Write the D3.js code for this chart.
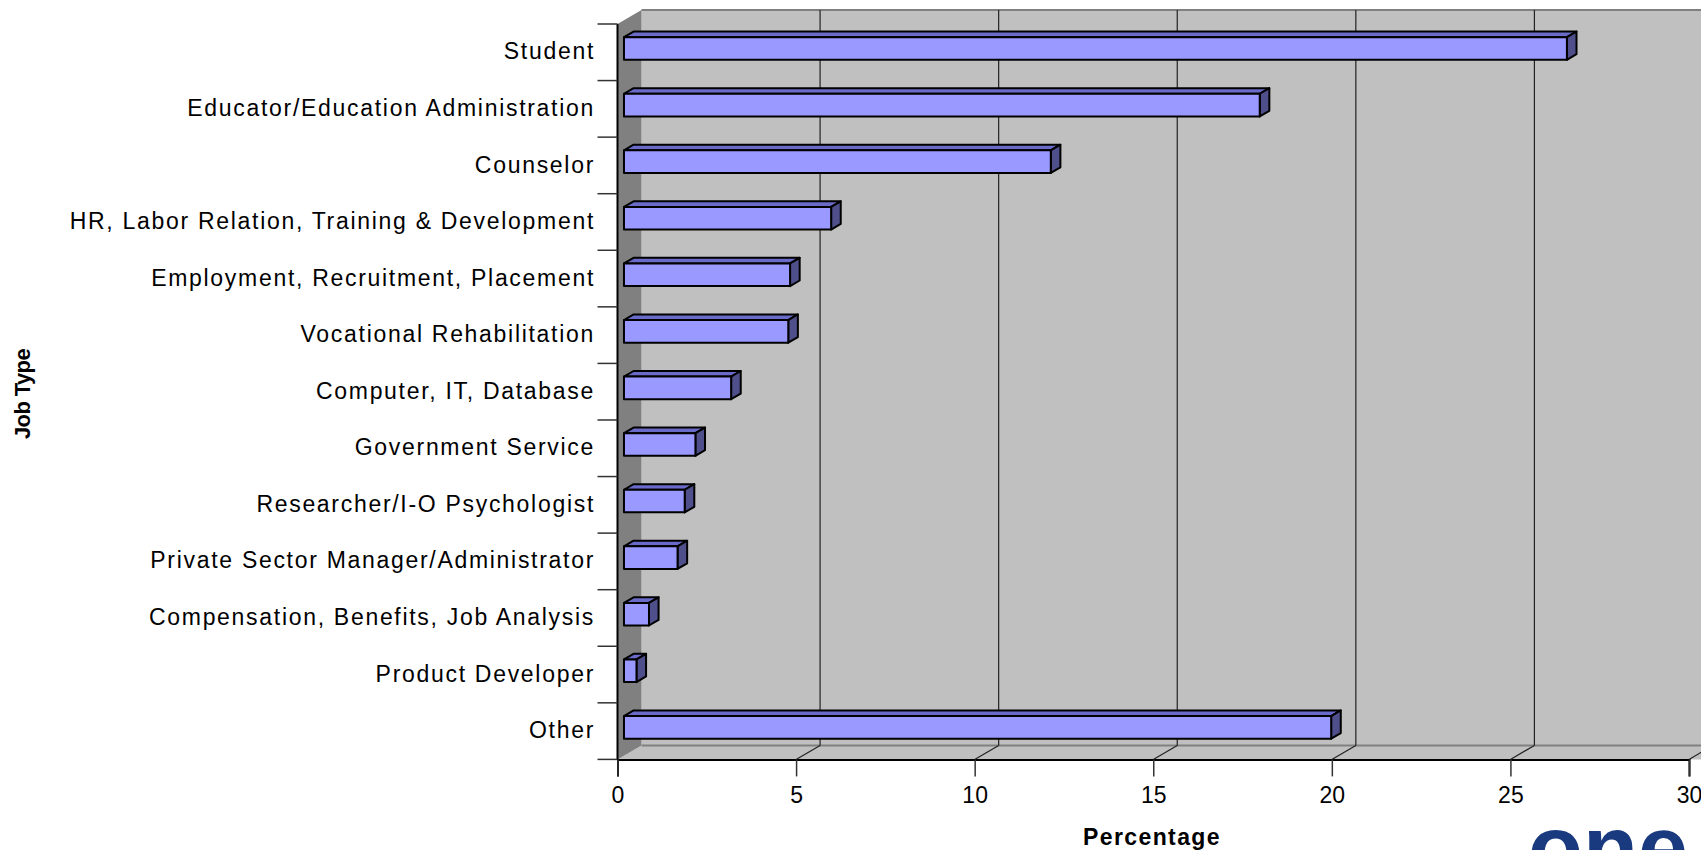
<!DOCTYPE html>
<html>
<head>
<meta charset="utf-8">
<script src="https://cdn.jsdelivr.net/npm/d3@7"></script>
<style>
  html, body { margin: 0; padding: 0; background: #fff; overflow: hidden; }
  svg { display: block; font-family: "Liberation Sans", Arial, sans-serif; }
</style>
</head>
<body>
<div id="chart"></div>
<script>
const jobTypes = [
    "Student",
    "Educator/Education Administration",
    "Counselor",
    "HR, Labor Relation, Training & Development",
    "Employment, Recruitment, Placement",
    "Vocational Rehabilitation",
    "Computer, IT, Database",
    "Government Service",
    "Researcher/I-O Psychologist",
    "Private Sector Manager/Administrator",
    "Compensation, Benefits, Job Analysis",
    "Product Developer",
    "Other"
];
const percentages = [26.4, 17.8, 11.95, 5.8, 4.65, 4.6, 3.0, 2.0, 1.7, 1.5, 0.7, 0.35, 19.8];
const xTicks = [0, 5, 10, 15, 20, 25, 30];

const W = 1701, H = 850;
// 3D depth of the plot box (front plane -> back wall)
const DX = 24, DY = -14;
// bars sit inside the depth
const barFront = 0.27, barDepth = 0.4;

const svg = d3.select("#chart").append("svg")
    .attr("width", W)
    .attr("height", H);

const x = d3.scaleLinear().domain([0, 30]).range([617.5, 1689]);
const y = d3.scaleBand().domain(jobTypes).range([24, 759.4])
    .paddingInner(0.6).paddingOuter(0.3);

const x0 = x(0), yTop = y.range()[0], yBot = y.range()[1];

// back wall
svg.append("rect")
    .attr("x", x0 + DX).attr("y", yTop + DY)
    .attr("width", W).attr("height", yBot - yTop)
    .attr("fill", "#c0c0c0");
svg.append("line")
    .attr("x1", x0 + DX).attr("x2", W)
    .attr("y1", yTop + DY).attr("y2", yTop + DY)
    .attr("stroke", "#808080").attr("stroke-width", 2);

// floor
svg.append("path")
    .attr("d", `M${x0},${yBot}L${x0 + DX},${yBot + DY}L${W + DX},${yBot + DY}L${W},${yBot}Z`)
    .attr("fill", "#c0c0c0");
svg.append("line")
    .attr("x1", x0 + DX).attr("x2", W)
    .attr("y1", yBot + DY).attr("y2", yBot + DY)
    .attr("stroke", "#808080").attr("stroke-width", 2);

// left side wall
svg.append("path")
    .attr("d", `M${x0},${yTop}L${x0 + DX},${yTop + DY}L${x0 + DX},${yBot + DY}L${x0},${yBot}Z`)
    .attr("fill", "#808080");

// gridlines on back wall and floor
const grid = svg.append("g");
grid.selectAll(".vgrid").data(xTicks.slice(1)).join("line")
    .attr("x1", d => x(d) + DX).attr("x2", d => x(d) + DX)
    .attr("y1", yTop + DY).attr("y2", yBot + DY)
    .attr("stroke", "#222").attr("stroke-width", 1.2);
grid.selectAll(".fgrid").data(xTicks.slice(1)).join("line")
    .attr("x1", d => x(d)).attr("x2", d => x(d) + DX)
    .attr("y1", yBot).attr("y2", yBot + DY)
    .attr("stroke", "#222").attr("stroke-width", 1.2);

// bars
const bars = svg.append("g")
    .attr("stroke", "#000")
    .attr("stroke-width", 2)
    .attr("stroke-linejoin", "round");
const fx = DX * barFront, fy = DY * barFront;
const bx = DX * barDepth, by = DY * barDepth;

jobTypes.forEach((name, i) => {
    const v = percentages[i];
    const left = x(0) + fx;
    const right = x(v) + fx;
    const top = y(name) + fy;
    const h = y.bandwidth();
    // top face
    bars.append("path")
        .attr("d", `M${left},${top}L${left + bx},${top + by}L${right + bx},${top + by}L${right},${top}Z`)
        .attr("fill", "#6a6ac8");
    // end face
    bars.append("path")
        .attr("d", `M${right},${top}L${right + bx},${top + by}L${right + bx},${top + by + h}L${right},${top + h}Z`)
        .attr("fill", "#4f4f8c");
    // front face
    bars.append("rect")
        .attr("x", left).attr("y", top)
        .attr("width", right - left).attr("height", h)
        .attr("fill", "#9999ff");
});

// category axis
svg.append("line")
    .attr("x1", x0).attr("x2", x0)
    .attr("y1", yTop).attr("y2", yBot)
    .attr("stroke", "#000").attr("stroke-width", 2);

const bounds = d3.range(jobTypes.length + 1).map(i => yTop + i * (yBot - yTop) / jobTypes.length);
svg.append("g").selectAll("line").data(bounds).join("line")
    .attr("x1", x0 - 20).attr("x2", x0)
    .attr("y1", d => d).attr("y2", d => d)
    .attr("stroke", "#333").attr("stroke-width", 1.5);

svg.append("g").selectAll("text").data(jobTypes).join("text")
    .attr("x", 595)
    .attr("y", d => y(d) + y.bandwidth() / 2 + 1)
    .attr("text-anchor", "end")
    .attr("dominant-baseline", "middle")
    .attr("font-size", 23)
    .attr("letter-spacing", "1.7px")
    .attr("fill", "#000")
    .text(d => d);

// value axis
const xAxis = svg.append("g")
    .attr("transform", `translate(0,${yBot})`)
    .call(d3.axisBottom(x).tickValues(xTicks).tickSize(17).tickPadding(10));
xAxis.select(".domain").attr("stroke", "#000").attr("stroke-width", 2);
xAxis.selectAll(".tick line").attr("stroke", "#333").attr("stroke-width", 1.5);
xAxis.selectAll(".tick text")
    .attr("font-size", 23)
    .attr("font-family", "'Liberation Sans', Arial, sans-serif")
    .attr("fill", "#000");

// axis titles
svg.append("text")
    .attr("x", 1152).attr("y", 845)
    .attr("text-anchor", "middle")
    .attr("font-size", 23)
    .attr("font-weight", "bold")
    .attr("letter-spacing", "1.4px")
    .text("Percentage");

svg.append("text")
    .attr("transform", "translate(30,394) rotate(-90)")
    .attr("text-anchor", "middle")
    .attr("font-size", 22)
    .attr("font-weight", "bold")
    .attr("letter-spacing", "-0.6px")
    .text("Job Type");

// partial logo at bottom right (cut off by the page edge, as in the original)
svg.append("text")
    .attr("x", 1528).attr("y", 879)
    .attr("font-size", 90)
    .attr("font-weight", "bold")
    .attr("fill", "#1a3a80")
    .text("one");
</script>
</body>
</html>
